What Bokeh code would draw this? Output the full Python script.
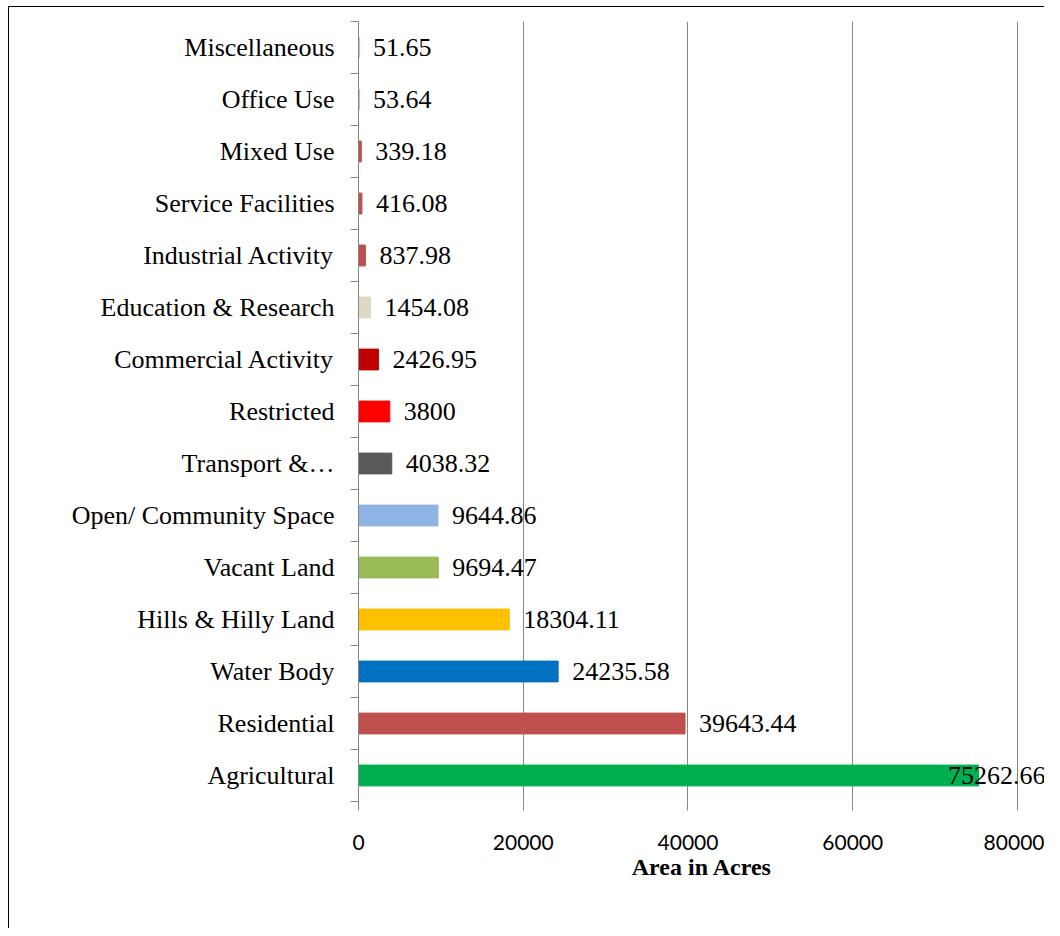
from bokeh.plotting import figure
from bokeh.models import ColumnDataSource, Range1d, FixedTicker, LinearAxis, Grid
from bokeh.embed import file_html
from bokeh.resources import INLINE
from bokeh.core.properties import value

# ---- data (bottom to top, as drawn) ----
categories = ["Agricultural", "Residential", "Water Body", "Hills & Hilly Land",
              "Vacant Land", "Open/ Community Space", "Transport &\u2026", "Restricted",
              "Commercial Activity", "Education & Research", "Industrial Activity",
              "Service Facilities", "Mixed Use", "Office Use", "Miscellaneous"]
areas = [75262.66, 39643.44, 24235.58, 18304.11, 9694.47, 9644.86, 4038.32, 3800,
         2426.95, 1454.08, 837.98, 416.08, 339.18, 53.64, 51.65]
bar_colors = ["#00B050", "#C0504D", "#0070C0", "#FFC000", "#9BBB59", "#8DB4E2",
              "#595959", "#FF0000", "#C00000", "#DDD9C4", "#C0504D", "#C0504D",
              "#C0504D", "#C0504D", "#C0504D"]
x_ticks = [0, 20000, 40000, 60000, 80000]
x_label = "Area in Acres"

X_END = 83400
n = len(categories)
pos = list(range(n))
labels = [("%d" % v) if v == int(v) else str(v) for v in areas]

# labels that would run beyond the plot are pulled back inside it
fit = [v < 70000 for v in areas]
src = ColumnDataSource(dict(y=pos, right=areas, color=bar_colors))
src_in = ColumnDataSource(dict(x=[a for a, f in zip(areas, fit) if f],
                               y=[p for p, f in zip(pos, fit) if f],
                               label=[l for l, f in zip(labels, fit) if f]))
src_out = ColumnDataSource(dict(x=[X_END for f in fit if not f],
                                y=[p for p, f in zip(pos, fit) if not f],
                                label=[l for l, f in zip(labels, fit) if not f]))

p = figure(width=1036, height=922, output_backend="svg", toolbar_location=None,
           x_range=Range1d(0, X_END), y_range=Range1d(-0.5, n - 0.5),
           min_border_left=349, min_border_right=0, min_border_top=14,
           min_border_bottom=128, x_axis_location=None, y_axis_location=None)
p.outline_line_color = None
p.styles = {"border-left": "1px solid black", "border-top": "1px solid black",
            "margin-left": "8px", "margin-top": "6px"}

p.hbar(y="y", left=0, right="right", height=0.4, fill_color="color",
       line_color="color", line_width=1, source=src)

p.text(x="x", y="y", text="label", source=src_in, x_offset=14,
       text_align="left", text_baseline="middle",
       text_font=value("Liberation Serif"), text_font_size="26px", text_color="black")
p.text(x="x", y="y", text="label", source=src_out, x_offset=0,
       text_align="right", text_baseline="middle",
       text_font=value("Liberation Serif"), text_font_size="26px", text_color="black")

# x axis
xaxis = LinearAxis(ticker=FixedTicker(ticks=x_ticks), axis_label=x_label)
xaxis.axis_line_color = None
xaxis.major_tick_in = 0
xaxis.major_tick_out = 9
xaxis.major_tick_line_color = "#868686"
xaxis.minor_tick_line_color = None
xaxis.major_label_text_font = "Lato"
xaxis.major_label_text_font_size = "21px"
xaxis.major_label_text_color = "black"
xaxis.major_label_standoff = 24
xaxis.axis_label_text_font = "Liberation Serif"
xaxis.axis_label_text_font_style = "bold"
xaxis.axis_label_text_font_size = "24px"
xaxis.axis_label_text_color = "black"
xaxis.axis_label_standoff = 1
p.add_layout(xaxis, "below")

# y axis (category names)
yaxis = LinearAxis(ticker=FixedTicker(ticks=pos, minor_ticks=[i - 0.5 for i in range(n + 1)]))
yaxis.major_label_overrides = {i: c for i, c in zip(pos, categories)}
yaxis.axis_line_color = "#868686"
yaxis.major_tick_in = 0
yaxis.major_tick_out = 0
yaxis.minor_tick_in = 0
yaxis.minor_tick_out = 8
yaxis.minor_tick_line_color = "#868686"
yaxis.major_label_text_font = "Liberation Serif"
yaxis.major_label_text_font_size = "26px"
yaxis.major_label_text_color = "black"
yaxis.major_label_standoff = 16
p.add_layout(yaxis, "left")

p.grid.grid_line_color = None
p.add_layout(Grid(dimension=0, ticker=FixedTicker(ticks=x_ticks[1:]),
                  grid_line_color="#868686", grid_line_width=1))

open("out.html", "w").write(file_html(p, INLINE))
